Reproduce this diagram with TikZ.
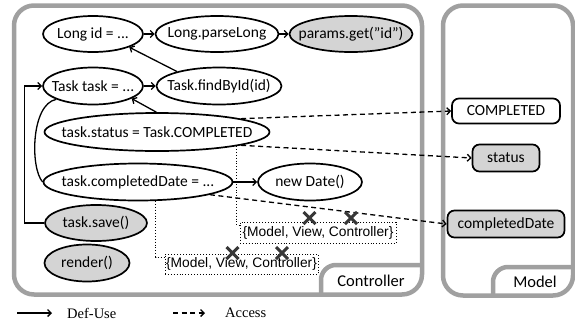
\documentclass[tikz,border=0pt]{standalone}
\usepackage{fontspec}
\setmainfont{Carlito}
\newfontfamily\arialf{Liberation Sans}
\newfontfamily\timesf{Liberation Serif}
\usetikzlibrary{arrows.meta,shapes.geometric}
\definecolor{framegray}{RGB}{160,160,160}
\definecolor{nodegray}{RGB}{212,212,212}
\definecolor{xgray}{RGB}{55,55,55}
\newcommand{\Zw}[1]{\makebox[0pt]{#1}}
\begin{document}
\begin{tikzpicture}[x=1pt,y=-1pt,
  ell/.style={ellipse, draw, line width=1.7pt, inner sep=0pt, font=\fontsize{15.5}{17}\selectfont},
  gfill/.style={fill=nodegray},
  mbox/.style={rounded corners=7pt, draw, line width=1.7pt, inner sep=0pt, font=\fontsize{15.5}{17}\selectfont},
  du/.style={-{Straight Barb[length=3.5pt,width=7pt]}, line width=1.3pt},
  acc/.style={du, dash pattern=on 5pt off 3.5pt},
  frame/.style={draw=framegray, line width=4.5pt, rounded corners=20pt},
  tab/.style={draw=framegray, line width=4.5pt, rounded corners=15pt},
  dotbox/.style={draw, dotted, line width=0.9pt, font=\arialf\fontsize{13.8}{15}\selectfont, inner sep=0pt},
  dotline/.style={dotted, line width=0.9pt},
  xmark/.style={line width=3pt, draw=xgray},
  leg/.style={font=\timesf\fontsize{14.5}{16}\selectfont, anchor=west, inner sep=0pt}
]
\useasboundingbox (0,0) rectangle (575,327);
% frames
\draw[frame] (14,5.5) rectangle (422,294.5);
\draw[tab] (321,294.5) |- (422,265);
\node[font=\fontsize{16.5}{18}\selectfont] (ctl) at (371,281) {Controller};
\draw[frame] (443,5.5) rectangle (573,295.5);
\draw[tab] (493,295.5) |- (573,267);
\node[font=\fontsize{16.5}{18}\selectfont] (mdl) at (535,282) {Model};

% nodes
\node[ell, minimum width=100pt, minimum height=36pt] (lid) at (93,34) {\Zw{Long id = ...}};
\node[ell, minimum width=123pt, minimum height=36pt] (lpl) at (217,34) {\Zw{Long.parseLong}};
\node[ell, gfill, minimum width=123pt, minimum height=36pt] (pg) at (351,34) {\Zw{params.get(”id”)}};
\node[ell, minimum width=100pt, minimum height=37pt] (tt) at (93,86) {\Zw{Task task = ...}};
\node[ell, minimum width=125pt, minimum height=37pt] (fbi) at (219,86) {\Zw{Task.findById(id)}};
\node[ell, minimum width=225pt, minimum height=38pt] (st) at (157,132) {\Zw{task.status = Task.COMPLETED}};
\node[ell, minimum width=189pt, minimum height=37pt] (cd) at (138,182) {\Zw{task.completedDate = ...}};
\node[ell, minimum width=104pt, minimum height=37pt] (nd) at (310,182) {\Zw{new Date()}};
\node[ell, gfill, minimum width=102pt, minimum height=36pt] (sv) at (96,223) {\Zw{task.save()}};
\node[ell, gfill, minimum width=85pt, minimum height=37pt] (rd) at (87,263) {\Zw{render()}};

\node[mbox, minimum width=108pt, minimum height=25pt] (comp) at (506,111) {COMPLETED};
\node[mbox, gfill, minimum width=67pt, minimum height=27pt] (stat) at (506,158) {status};
\node[mbox, gfill, minimum width=117pt, minimum height=27pt] (cdm) at (506,224) {completedDate};

\node[dotbox, minimum width=156pt, minimum height=21pt] (b1) at (318,232.5) {\{Model, View, Controller\}};
\node[dotbox, minimum width=153pt, minimum height=20pt] (b2) at (241.5,264) {\{Model, View, Controller\}};

% def-use
\draw[du] (lid) -- (lpl);
\draw[du] (lpl) -- (pg);
\draw[du] (tt) -- (fbi);
\draw[du] (fbi.161) -- (lid.-20);
\draw[du] (st.92) -- (tt.-18);
\draw[du] (cd) -- (nd);
\draw[du] (sv.west) -- ++(-20,0) |- (tt.west);
\draw[line width=1.3pt] (cd.west) .. controls (30,168) and (31,104) .. (tt.200);

% access
\draw[acc] (st.9) -- (comp.west);
\draw[acc] (st.-9) -- (stat.west);
\draw[acc] (cd.-10) -- (cdm.west);

% dotted
\draw[dotline] (st.-10) |- ([yshift=7pt]b1.west);
\draw[dotline] (cd.-47) |- ([yshift=7pt]b2.west);

% crosses
\draw[xmark] (309.5,218) +(-6,-6) -- +(6,6) +(-6,6) -- +(6,-6);
\draw[xmark] (351,218) +(-6,-6) -- +(6,6) +(-6,6) -- +(6,-6);
\draw[xmark] (232.5,253) +(-6,-6) -- +(6,6) +(-6,6) -- +(6,-6);
\draw[xmark] (282,253) +(-6,-6) -- +(6,6) +(-6,6) -- +(6,-6);

% legend
\coordinate (la) at (17,313);
\coordinate (lb) at (52,313);
\draw[du] (la) -- (lb);
\node[leg] (ldu) at (67,313) {Def-Use};
\coordinate (lc) at (173,313);
\coordinate (ld) at (205,313);
\draw[acc] (lc) -- (ld);
\node[leg] (lac) at (225,313) {Access};
\end{tikzpicture}
\end{document}
